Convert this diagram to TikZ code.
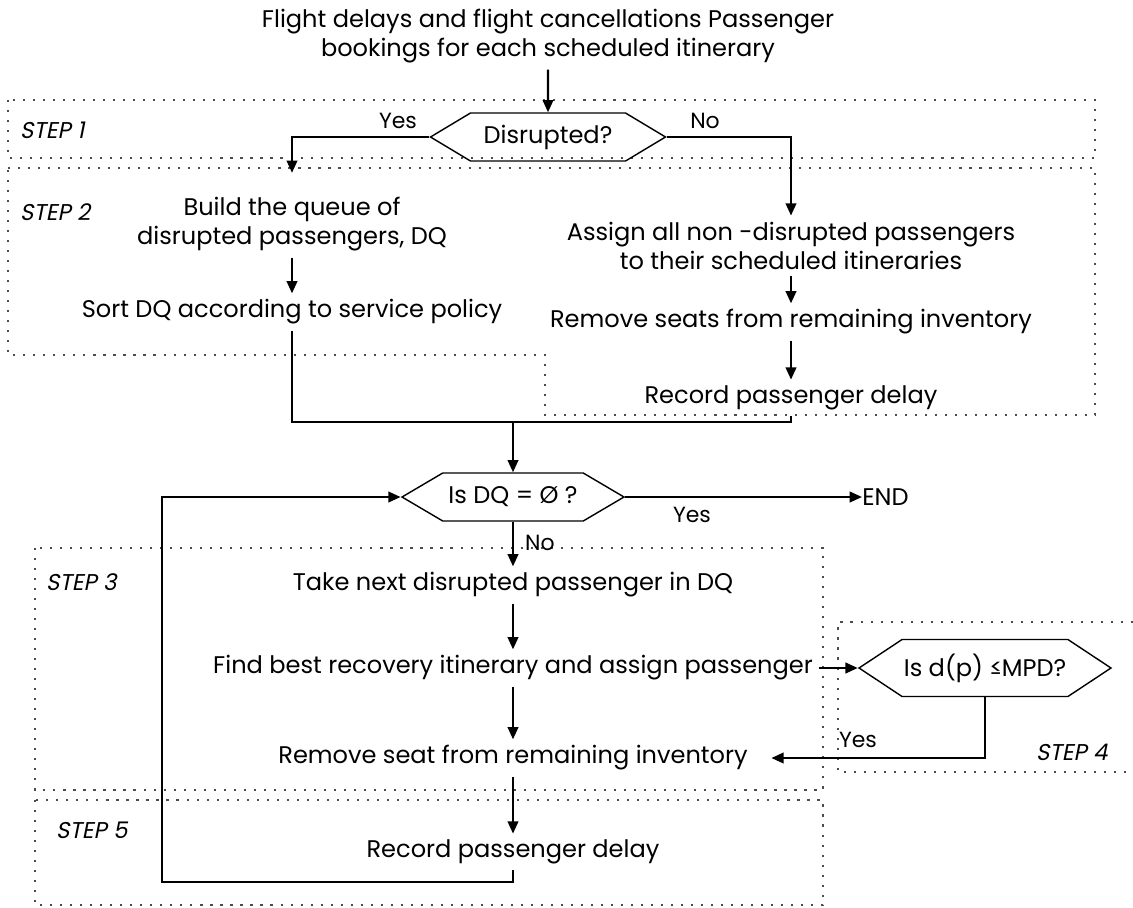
\documentclass[tikz,border=0pt]{standalone}
\usepackage{fontspec}
\setmainfont{Poppins}
\newfontfamily\stepfont[FakeSlant=0.2]{Poppins}
\usetikzlibrary{arrows.meta,shapes.symbols}

\tikzset{
	flow/.style={line width=1.3pt, -{Triangle[length=7pt,width=6pt]}},
	link/.style={line width=1.3pt},
	zone/.style={black!70, line width=0.6pt, dash pattern=on 1.2pt off 4.5pt},
	decide/.style={draw, line width=0.8pt, signal, signal to=east and west, inner sep=1pt},
	steplabel/.style={font=\stepfont\fontsize{13}{15}\selectfont, anchor=west},
	lbl/.style={font=\fontsize{12.5}{14}\selectfont},
}

\begin{document}
\begin{tikzpicture}[x=0.02cm, y=-0.02cm, font=\fontsize{13.7}{17}\selectfont]
				\useasboundingbox (0,0) rectangle (1133,907);
				% Dotted step regions
				\draw[zone] (8,100) rectangle (1095,158);
				\draw[zone] (8,168) -- (1095,168) -- (1095,415) -- (545,415) -- (545,355) -- (8,355) -- cycle;
				\draw[zone] (35,548) rectangle (823,790);
				\draw[zone] (1133,622) -- (838,622) -- (838,772) -- (1133,772);
				\draw[zone] (35,800) rectangle (823,905);
				
				% Step names
				\node[steplabel] (s1) at (14,130) {STEP 1};
				\node[steplabel] (s2) at (14,212) {STEP 2};
				\node[steplabel] (s3) at (40,582) {STEP 3};
				\node[steplabel] (s5) at (50,830) {STEP 5};
				\node[steplabel] (s4) at (1030,752) {STEP 4};
				
				% Input and first decision
				\node[align=center] (input) at (548,36) {Flight delays and flight cancellations Passenger\\bookings for each scheduled itinerary};
				\node[decide, signal pointer angle=62, minimum width=4.7cm, minimum height=0.96cm] (disr) at (548,137) {Disrupted?};
				
				% Left column: disrupted passengers
				\node[align=center] (build) at (292,224) {Build the queue of\\disrupted passengers, DQ};
				\node (sortdq) at (292,312) {Sort DQ according to service policy};
				
				% Right column: non-disrupted passengers
				\node[align=center] (assign) at (791,246) {Assign all non -disrupted passengers\\to their scheduled itineraries};
				\node (seats) at (791,322) {Remove seats from remaining inventory};
				\node (recA) at (791,398) {Record passenger delay};
				
				\coordinate (join) at (513,422);
				\node[decide, signal pointer angle=61, minimum width=4.44cm, minimum height=0.96cm] (isdq) at (513,497) {Is DQ = Ø ?};
				\node[anchor=west, inner sep=0pt] (endn) at (862,497) {END};
				
				% Main loop
				\node (take) at (513,585) {Take next disrupted passenger in DQ};
				\node (find) at (513,668) {Find best recovery itinerary and assign passenger};
				\node (seat) at (513,758) {Remove seat from remaining inventory};
				\node (recB) at (513,852) {Record passenger delay};
				\node[decide, signal pointer angle=67, minimum width=4.3cm, minimum height=1.14cm] (mpd) at (985,668) {Is d(p) ≤MPD?};
				\coordinate (loopa) at (162,882);
				
				% Branch labels
				\node[lbl] (yesA) at (398,121) {Yes};
				\node[lbl] (noA) at (705,121) {No};
				\node[lbl] (yesB) at (692,515) {Yes};
				\node[lbl, anchor=west] (noB) at (519,543) {No};
				\node[lbl] (yesC) at (858,740) {Yes};
				
				% Connectors
				\draw[flow] (input) -- (disr);
				\draw[flow, shorten >=10pt] (disr.west) -| (build.north);
				\draw[flow] (disr.east) -| (assign.north);
				\draw[flow] (build) -- (sortdq);
				\draw[flow] (assign) -- (seats);
				\draw[flow] (seats) -- (recA);
				\draw[link] (sortdq.south) |- (join);
				\draw[link] (recA.south) |- (join);
				\draw[flow] (join) -- (isdq.north);
				\draw[flow] (isdq.east) -- (endn.west);
				\draw[flow] (isdq.south) -- (take.north);
				\draw[flow] (take) -- (find);
				\draw[flow] (find) -- (seat);
				\draw[flow] (seat) -- (recB);
				\draw[flow] (find.east) -- (mpd.west);
				\draw[flow, shorten >=10pt] (mpd.south) |- (seat.east);
				\draw[flow] (recB.south) |- (loopa) |- (isdq.west);
			\end{tikzpicture}
\end{document}
